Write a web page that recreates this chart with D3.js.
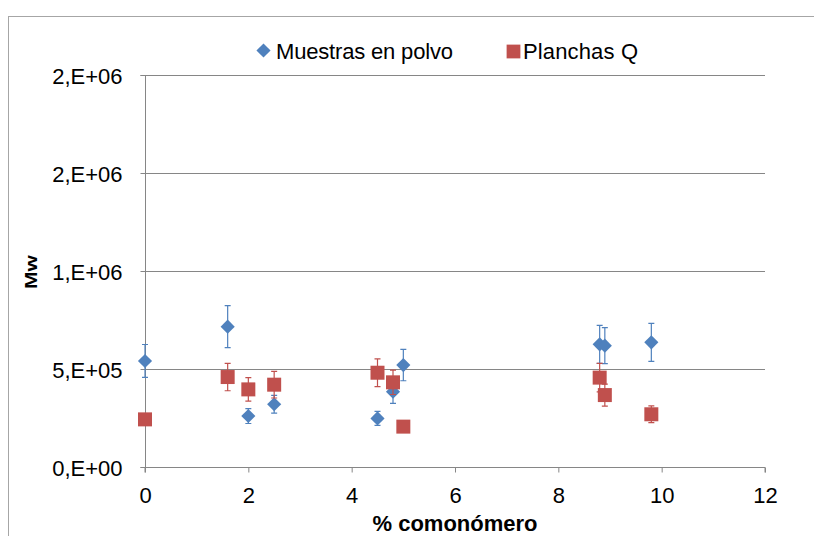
<!DOCTYPE html>
<html>
<head>
<meta charset="utf-8">
<script src="https://cdn.jsdelivr.net/npm/d3@7"></script>
<style>
  body { margin: 0; background: #fff; }
  svg { display: block; font-family: "Liberation Sans", Arial, sans-serif; }
</style>
</head>
<body>
<svg id="chart" width="814" height="536"></svg>
<script>
// % comonomer content of each sample
const comonomer = [0, 1.6, 2, 2.5, 4.5, 4.8, 5, 8.8, 8.9, 9.8];

// Mw of powder samples and their error
const polvoMw  = [541000, 716000, 260000, 320000, 248000, 384000, 520000, 626000, 619000, 636000];
const polvoErr = [84000, 107000, 38000, 45000, 36000, 59000, 80000, 97000, 92000, 97000];

// Mw of pressed plates (Q) and their error
const planchasMw  = [243000, 459000, 396000, 420000, 481000, 432000, 206000, 456000, 367000, 269000];
const planchasErr = [20000, 70000, 60000, 68000, 71000, 62000, 20000, 73000, 56000, 43000];

// Axis ticks
const xTicks = [0, 2, 4, 6, 8, 10, 12];
const yTicks = [0, 500000, 1000000, 1500000, 2000000];
const yTickLabels = ["0,E+00", "5,E+05", "1,E+06", "2,E+06", "2,E+06"];

const seriesNames = ["Muestras en polvo", "Planchas Q"];
const blue = "#4F81BD", red = "#C0504D", axisGray = "#868686";

const svg = d3.select("#chart");

// outer chart frame
svg.append("rect")
  .attr("x", 8.5).attr("y", 16.5)
  .attr("width", 900).attr("height", 600)
  .attr("fill", "none").attr("stroke", "#a6a6a6").attr("stroke-width", 1);

const x = d3.scaleLinear().domain([0, 12]).range([145, 765]);
const y = d3.scaleLinear().domain([0, 2000000]).range([467, 75]);

// horizontal gridlines
svg.append("g").selectAll("line")
  .data(yTicks.slice(1))
  .join("line")
  .attr("x1", x(0)).attr("x2", x(12))
  .attr("y1", d => Math.round(y(d)) + 0.5).attr("y2", d => Math.round(y(d)) + 0.5)
  .attr("stroke", axisGray).attr("stroke-width", 1);

// y axis
const yAxis = svg.append("g")
  .attr("transform", `translate(${x(0) + 0.5},0)`)
  .call(d3.axisLeft(y).tickValues(yTicks).tickSize(5).tickPadding(18)
    .tickFormat((d, i) => yTickLabels[i]));
yAxis.select(".domain").attr("stroke", axisGray).attr("d", `M-5,${y(2000000) + 0.5}H0V${y(0) + 0.5}H-5`);
yAxis.selectAll(".tick line").attr("stroke", axisGray);
yAxis.selectAll(".tick text")
  .attr("font-size", 22).attr("fill", "#000").attr("dy", "0.37em")
  .attr("font-family", "Liberation Sans, Arial, sans-serif");

// x axis
const xAxis = svg.append("g")
  .attr("transform", `translate(0,${Math.round(y(0)) + 0.5})`)
  .call(d3.axisBottom(x).tickValues(xTicks).tickSize(5).tickPadding(0)
    .tickFormat(d3.format("d")));
xAxis.select(".domain").attr("stroke", axisGray).attr("d", `M${x(0)},5V0H${x(12)}V5`);
xAxis.selectAll(".tick line").attr("stroke", axisGray);
xAxis.selectAll(".tick text")
  .attr("font-size", 22).attr("fill", "#000").attr("y", 35).attr("dy", 0)
  .attr("font-family", "Liberation Sans, Arial, sans-serif");

// axis titles
svg.append("text")
  .attr("x", 455).attr("y", 531)
  .attr("text-anchor", "middle")
  .attr("font-size", 22).attr("font-weight", "bold")
  .text("% comonómero");

svg.append("text")
  .attr("transform", "translate(37,272) rotate(-90) scale(1,0.78)")
  .attr("text-anchor", "middle")
  .attr("font-size", 21).attr("font-weight", "bold")
  .text("Mw");

const diamond = d3.symbol(d3.symbolSquare, 100);
const square = d3.symbol(d3.symbolSquare, 196);

function drawSeries(xs, ys, errs, color, markerPath, rotate) {
  const g = svg.append("g");
  const pts = xs.map((v, i) => ({ x: v, y: ys[i], e: errs[i] }));
  // error bars
  const eb = g.append("g").attr("stroke", color).attr("stroke-width", 1.2).attr("fill", "none");
  eb.selectAll("path")
    .data(pts)
    .join("path")
    .attr("d", d => {
      const cx = x(d.x), t = y(d.y + d.e), b = y(d.y - d.e);
      return `M${cx},${t}V${b}M${cx - 3},${t}H${cx + 3}M${cx - 3},${b}H${cx + 3}`;
    });
  // markers
  g.append("g").selectAll("path")
    .data(pts)
    .join("path")
    .attr("d", markerPath)
    .attr("transform", d => `translate(${x(d.x)},${y(d.y)}) rotate(${rotate})`)
    .attr("fill", color);
}

drawSeries(comonomer, polvoMw, polvoErr, blue, diamond, 45);
drawSeries(comonomer, planchasMw, planchasErr, red, square, 0);

// legend
const legend = svg.append("g");
legend.append("path").attr("d", diamond)
  .attr("transform", "translate(263.5,50.5) rotate(45)").attr("fill", blue);
legend.append("text").attr("x", 276).attr("y", 59).attr("font-size", 22)
  .attr("textLength", 177).text(seriesNames[0]);
legend.append("path").attr("d", d3.symbol(d3.symbolSquare, 190))
  .attr("transform", "translate(513.5,51.5)").attr("fill", red);
legend.append("text").attr("x", 523).attr("y", 59).attr("font-size", 22)
  .attr("textLength", 115).text(seriesNames[1]);
</script>
</body>
</html>
